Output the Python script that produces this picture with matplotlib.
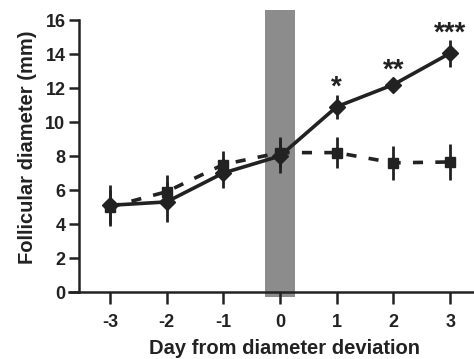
import matplotlib.pyplot as plt

plt.rcParams['font.family'] = ['Liberation Sans', 'DejaVu Sans']
plt.rcParams['font.weight'] = 'bold'

days = [-3, -2, -1, 0, 1, 2, 3]
day_labels = ['-3', '-2', '-1', '0', '1', '2', '3']

# dominant follicle (solid, diamonds)
dom_mean = [5.1, 5.3, 7.0, 8.0, 10.9, 12.2, 14.05]
dom_err = [1.2, 1.2, 0.9, 1.0, 0.7, 0.3, 0.8]

# subordinate follicle (dashed, squares)
sub_mean = [5.0, 5.9, 7.5, 8.2, 8.2, 7.6, 7.65]
sub_err = [1.0, 1.0, 0.8, 0.9, 0.9, 1.0, 1.05]

star_days = [1, 2, 3]
star_y = [12.0, 13.05, 15.2]
star_text = ['*', '**', '***']

ink = '#222222'

fig = plt.figure(figsize=(4.74, 3.59), dpi=100)
ax = fig.add_axes([0.1456, 0.1866, 0.8544, 0.805])

# shaded deviation band
ax.axvspan(-0.27, 0.27, ymin=-0.3 / 17, ymax=16.6 / 17, color='#8c8c8c',
           clip_on=False, zorder=0, lw=0)

ax.errorbar(days, sub_mean, yerr=sub_err, color=ink, lw=2.6, ls=(0, (2.8, 3.4)),
            marker='s', ms=7, elinewidth=2, capsize=0, zorder=3)
ax.errorbar(days, dom_mean, yerr=dom_err, color=ink, lw=2.6, ls='-',
            marker='D', ms=8, elinewidth=2, capsize=0, zorder=4)

for d, y, t in zip(star_days, star_y, star_text):
    ax.text(d, y, t, ha='center', va='center', fontsize=20, color=ink,
            fontweight='bold')

ax.set_xlim(-3.72, 3.42)
ax.set_ylim(0, 17)
ax.set_xticks(days)
ax.set_xticklabels(day_labels)
ax.set_yticks(range(0, 17, 2))
ax.spines['top'].set_visible(False)
ax.spines['right'].set_visible(False)
ax.spines['left'].set_position(('data', -3.55))
ax.spines['left'].set_bounds(0, 16)
for s in ['left', 'bottom']:
    ax.spines[s].set_linewidth(1.8)
    ax.spines[s].set_color(ink)
ax.tick_params(axis='y', length=7.5, width=1.8, labelsize=13, colors=ink, pad=2)
ax.tick_params(axis='x', length=8.5, width=1.8, labelsize=13, colors=ink, pad=7)

ax.set_xlabel('Day from diameter deviation', fontsize=14.5, fontweight='bold',
              color=ink, labelpad=6)
ax.xaxis.label.set_x(0.533)
ax.set_ylabel('Follicular diameter (mm)', fontsize=14.5, fontweight='bold',
              color=ink, labelpad=6)

fig.savefig('out.png', dpi=100)
